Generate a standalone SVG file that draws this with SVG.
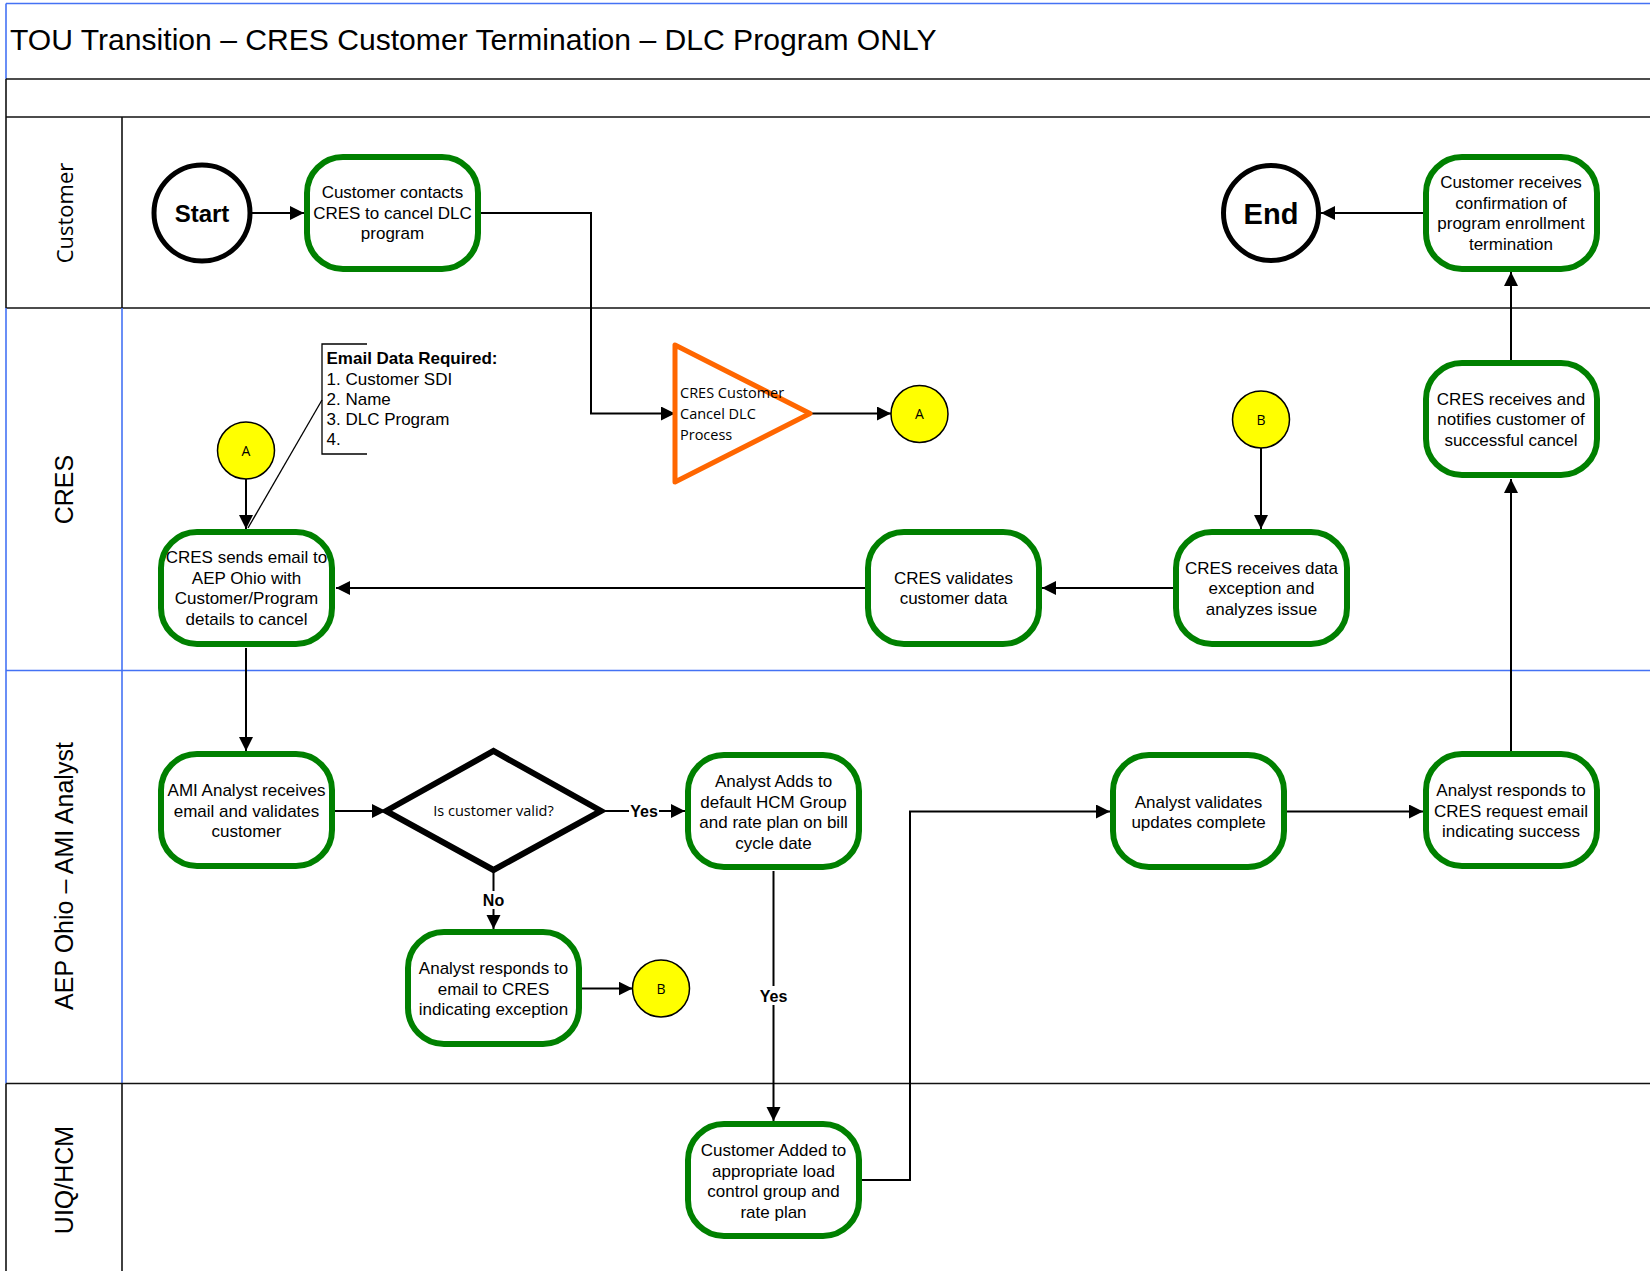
<svg xmlns="http://www.w3.org/2000/svg" width="1650" height="1271" viewBox="0 0 1650 1271">
<style>
.lane{stroke:#111;stroke-width:1.6;fill:none}
.blue{stroke:#4472F4;stroke-width:1.6;fill:none}
.box{fill:#fff;stroke:#008000;stroke-width:6}
.t{font-family:"Liberation Sans",Arial,sans-serif;font-size:17px;fill:#000;text-anchor:middle}
.c{font-family:"Open Sans","Liberation Sans",sans-serif;fill:#000}
.conn{stroke:#000;stroke-width:2;fill:none}
.lbl{font-family:"Liberation Sans",Arial,sans-serif;font-size:16px;font-weight:bold;fill:#000;text-anchor:middle}
.circ{fill:#FFFF00;stroke:#000;stroke-width:1.5}
</style>
<defs>
<marker id="ah" markerUnits="userSpaceOnUse" markerWidth="15" markerHeight="15" refX="14" refY="7" orient="auto">
<path d="M0,0 L14,7 L0,14 z" fill="#000"/>
</marker>
</defs>
<rect x="0" y="0" width="1650" height="1271" fill="#fff"/>

<g id="frame">
<text x="10" y="50" font-family="Liberation Sans, Arial, sans-serif" font-size="30.1" fill="#000">TOU Transition – CRES Customer Termination – DLC Program ONLY</text>
<line class="blue" x1="6" y1="3.5" x2="1650" y2="3.5"/>
<line class="blue" x1="6" y1="3.5" x2="6" y2="79"/>
<line class="lane" x1="6" y1="79" x2="1650" y2="79"/>
<line class="lane" x1="6" y1="79" x2="6" y2="308"/>
<line class="lane" x1="6" y1="117" x2="1650" y2="117"/>
<line class="lane" x1="122" y1="117" x2="122" y2="308"/>
<line class="lane" x1="6" y1="308" x2="1650" y2="308"/>
<line class="blue" x1="6" y1="308" x2="6" y2="1083.5"/>
<line class="blue" x1="122" y1="308" x2="122" y2="1083.5"/>
<line class="blue" x1="6" y1="670.5" x2="1650" y2="670.5"/>
<line class="lane" x1="6" y1="1083.5" x2="1650" y2="1083.5"/>
<line class="lane" x1="6" y1="1083.5" x2="6" y2="1271"/>
<line class="lane" x1="122" y1="1083.5" x2="122" y2="1271"/>
<text class="c" font-size="22" text-anchor="middle" transform="translate(73,213) rotate(-90)">Customer</text>
<text font-family="Liberation Sans, Arial, sans-serif" font-size="25" text-anchor="middle" transform="translate(73,489.5) rotate(-90)">CRES</text>
<text font-family="Liberation Sans, Arial, sans-serif" font-size="25" text-anchor="middle" transform="translate(73,876) rotate(-90)">AEP Ohio – AMI Analyst</text>
<text font-family="Liberation Sans, Arial, sans-serif" font-size="25" text-anchor="middle" transform="translate(73,1180) rotate(-90)">UIQ/HCM</text>
</g>

<g id="connectors">
<path class="conn" marker-end="url(#ah)" d="M251,213 H304"/>
<path class="conn" marker-end="url(#ah)" d="M481,213 H591 V413.5 H675"/>
<path class="conn" marker-end="url(#ah)" d="M810,413.5 H891"/>
<path class="conn" marker-end="url(#ah)" d="M246,479 V529"/>
<path d="M322,400 L248,528" stroke="#000" stroke-width="1.3" fill="none"/>
<path class="conn" marker-end="url(#ah)" d="M1261,448 V529"/>
<path class="conn" marker-end="url(#ah)" d="M1173,588 H1042"/>
<path class="conn" marker-end="url(#ah)" d="M865,588 H336"/>
<path class="conn" marker-end="url(#ah)" d="M246,648 V751"/>
<path class="conn" marker-end="url(#ah)" d="M335,811 H386"/>
<path class="conn" marker-end="url(#ah)" d="M601,811 H685"/>
<path class="conn" marker-end="url(#ah)" d="M493.5,870 V929"/>
<path class="conn" marker-end="url(#ah)" d="M581,988.5 H632.5"/>
<path class="conn" marker-end="url(#ah)" d="M773.5,871 V1121"/>
<path class="conn" marker-end="url(#ah)" d="M861,1180 H910 V811.5 H1110"/>
<path class="conn" marker-end="url(#ah)" d="M1285,811.5 H1423"/>
<path class="conn" marker-end="url(#ah)" d="M1511,751 V479"/>
<path class="conn" marker-end="url(#ah)" d="M1511,360 V272"/>
<path class="conn" marker-end="url(#ah)" d="M1423,213 H1321"/>
<rect x="629" y="802" width="30" height="18" fill="#fff"/>
<text class="lbl" x="644" y="817">Yes</text>
<rect x="481" y="891" width="26" height="18" fill="#fff"/>
<text class="lbl" x="493.5" y="906">No</text>
<rect x="758" y="986" width="31" height="19" fill="#fff"/>
<text class="lbl" x="773.5" y="1001.5">Yes</text>
</g>

<g id="start">
<circle cx="202" cy="213" r="48" fill="#fff" stroke="#000" stroke-width="5"/>
<text x="202" y="221.5" font-family="Liberation Sans, Arial, sans-serif" font-size="24" font-weight="bold" text-anchor="middle">Start</text>
</g>

<g id="end">
<circle cx="1271" cy="213" r="47.5" fill="#fff" stroke="#000" stroke-width="5"/>
<text x="1271" y="223.5" font-family="Liberation Sans, Arial, sans-serif" font-size="29" font-weight="bold" text-anchor="middle">End</text>
</g>

<g id="customer-contacts">
<rect class="box" x="307" y="157" width="171" height="112" rx="36"/>
<text class="t"><tspan x="392.5" y="198">Customer contacts</tspan><tspan x="392.5" y="218.5">CRES to cancel DLC</tspan><tspan x="392.5" y="239">program</tspan></text>
</g>

<g id="customer-receives">
<rect class="box" x="1426" y="157" width="171" height="112" rx="36"/>
<text class="t"><tspan x="1511" y="188">Customer receives</tspan><tspan x="1511" y="208.5">confirmation of</tspan><tspan x="1511" y="229">program enrollment</tspan><tspan x="1511" y="249.5">termination</tspan></text>
</g>

<g id="offpage">
<polygon points="675,345 675,482 810,413.5" fill="#fff" stroke="#FF6600" stroke-width="5" stroke-linejoin="round"/>
<text class="c" font-size="14.5"><tspan x="680" y="397.5">CRES Customer</tspan><tspan x="680" y="418.5">Cancel DLC</tspan><tspan x="680" y="439.5">Process</tspan></text>
</g>

<g id="conn-a-right">
<circle class="circ" cx="919.5" cy="414" r="28.5"/>
<text class="c" font-size="14" text-anchor="middle" x="919.5" y="419">A</text>
</g>

<g id="conn-a-left">
<circle class="circ" cx="246" cy="450.5" r="28.5"/>
<text class="c" font-size="14" text-anchor="middle" x="246" y="455.5">A</text>
</g>

<g id="conn-b-top">
<circle class="circ" cx="1261" cy="419.5" r="28.5"/>
<text class="c" font-size="14" text-anchor="middle" x="1261" y="424.5">B</text>
</g>

<g id="conn-b-bottom">
<circle class="circ" cx="661" cy="988.5" r="28.5"/>
<text class="c" font-size="14" text-anchor="middle" x="661" y="993.5">B</text>
</g>

<g id="email-note">
<path d="M367,344 H322 V454 H367" stroke="#000" stroke-width="1.3" fill="none"/>
<text font-family="Liberation Sans, Arial, sans-serif" font-size="17" fill="#000">
<tspan x="326.5" y="364" font-weight="bold">Email Data Required:</tspan>
<tspan x="326.5" y="384.5">1. Customer SDI</tspan>
<tspan x="326.5" y="404.5">2. Name</tspan>
<tspan x="326.5" y="425">3. DLC Program</tspan>
<tspan x="326.5" y="445">4.</tspan>
</text>
</g>

<g id="cres-notifies">
<rect class="box" x="1426" y="363" width="171" height="112" rx="36"/>
<text class="t"><tspan x="1511" y="404.5">CRES receives and</tspan><tspan x="1511" y="425">notifies customer of</tspan><tspan x="1511" y="445.5">successful cancel</tspan></text>
</g>

<g id="cres-sends">
<rect class="box" x="161" y="532" width="171" height="112" rx="36"/>
<text class="t"><tspan x="246.5" y="563">CRES sends email to</tspan><tspan x="246.5" y="583.5">AEP Ohio with</tspan><tspan x="246.5" y="604">Customer/Program</tspan><tspan x="246.5" y="624.5">details to cancel</tspan></text>
</g>

<g id="cres-validates">
<rect class="box" x="868" y="532" width="171" height="112" rx="36"/>
<text class="t"><tspan x="953.5" y="583.5">CRES validates</tspan><tspan x="953.5" y="604">customer data</tspan></text>
</g>

<g id="cres-receives-data">
<rect class="box" x="1176" y="532" width="171" height="112" rx="36"/>
<text class="t"><tspan x="1261.5" y="573.5">CRES receives data</tspan><tspan x="1261.5" y="594">exception and</tspan><tspan x="1261.5" y="614.5">analyzes issue</tspan></text>
</g>

<g id="ami-receives">
<rect class="box" x="161" y="754" width="171" height="112" rx="36"/>
<text class="t"><tspan x="246.5" y="796">AMI Analyst receives</tspan><tspan x="246.5" y="816.5">email and validates</tspan><tspan x="246.5" y="837">customer</tspan></text>
</g>

<g id="decision">
<polygon points="386,811 493.5,751 601,811 493.5,870" fill="#fff" stroke="#000" stroke-width="6"/>
<text class="c" font-size="14.5" text-anchor="middle" x="493.5" y="816">Is customer valid?</text>
</g>

<g id="analyst-adds">
<rect class="box" x="688" y="755" width="171" height="112" rx="36"/>
<text class="t"><tspan x="773.5" y="787">Analyst Adds to</tspan><tspan x="773.5" y="807.5">default HCM Group</tspan><tspan x="773.5" y="828">and rate plan on bill</tspan><tspan x="773.5" y="848.5">cycle date</tspan></text>
</g>

<g id="analyst-exception">
<rect class="box" x="408" y="932" width="171" height="112" rx="36"/>
<text class="t"><tspan x="493.5" y="974">Analyst responds to</tspan><tspan x="493.5" y="994.5">email to CRES</tspan><tspan x="493.5" y="1015">indicating exception</tspan></text>
</g>

<g id="analyst-validates">
<rect class="box" x="1113" y="755" width="171" height="112" rx="36"/>
<text class="t"><tspan x="1198.5" y="807.5">Analyst validates</tspan><tspan x="1198.5" y="828">updates complete</tspan></text>
</g>

<g id="analyst-success">
<rect class="box" x="1426" y="754" width="171" height="112" rx="36"/>
<text class="t"><tspan x="1511" y="796">Analyst responds to</tspan><tspan x="1511" y="816.5">CRES request email</tspan><tspan x="1511" y="837">indicating success</tspan></text>
</g>

<g id="customer-added">
<rect class="box" x="688" y="1124" width="171" height="112" rx="36"/>
<text class="t"><tspan x="773.5" y="1156">Customer Added to</tspan><tspan x="773.5" y="1176.5">appropriate load</tspan><tspan x="773.5" y="1197">control group and</tspan><tspan x="773.5" y="1217.5">rate plan</tspan></text>
</g>
</svg>
